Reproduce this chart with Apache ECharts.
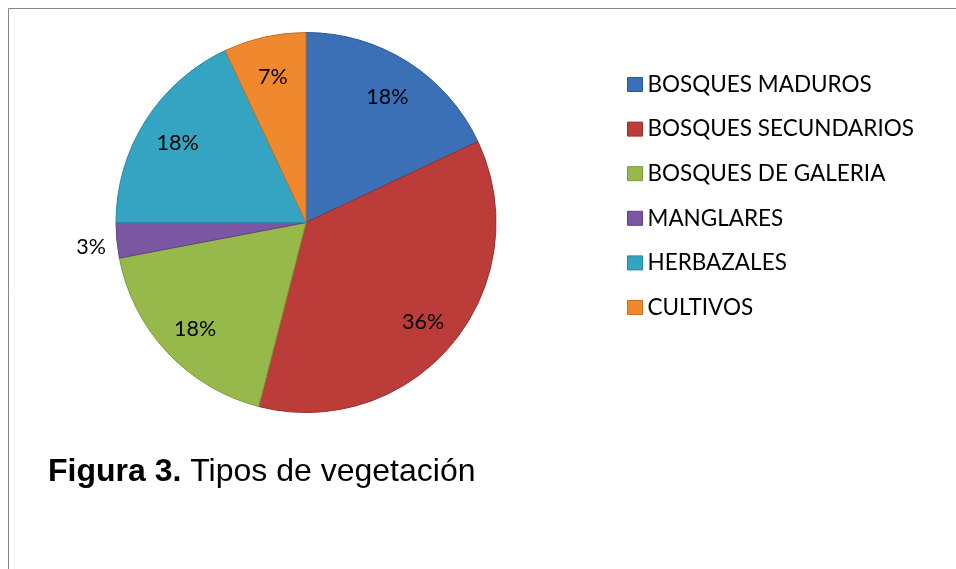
<!DOCTYPE html>
<html><head><meta charset="utf-8">
<script src="https://cdn.jsdelivr.net/npm/echarts@6/dist/echarts.min.js"></script>
<style>html,body{margin:0;padding:0;background:#fff}#c{width:956px;height:569px}</style>
</head><body><div id="c"></div>
<script>
const categories = ['BOSQUES MADUROS','BOSQUES SECUNDARIOS','BOSQUES DE GALERIA','MANGLARES','HERBAZALES','CULTIVOS'];
const values = [18, 36, 18, 3, 18, 7];
const colors = ['#3b6fb6','#bc3c3a','#97b94b','#7b56a3','#35a4c2','#f0892d'];
const edge = ['#2b5896','#98302e','#7a9a38','#5f4182','#27869f','#c96e20'];

const chart = echarts.init(document.getElementById('c'));
const pieData = categories.map((n,i)=>({
  name:n, value:values[i],
  itemStyle:{ color:colors[i], borderColor:edge[i], borderWidth:1 }
}));
const labelData = categories.map((n,i)=>({
  name:n, value:values[i],
  label: i===3 ? {position:'outside', offset:[0,4]} : {position:'inside'}
}));
chart.setOption({
  animation:false,
  legend:{
    orient:'vertical', left:622, top:68,
    itemWidth:15, itemHeight:14, itemGap:21.6,
    icon:'rect',
    textStyle:{fontFamily:'Lato', fontSize:22.5, color:'#000', lineHeight:23, padding:[0,0,0,0]},
    data:categories.map((n,i)=>({name:n, itemStyle:{color:colors[i], borderColor:edge[i], borderWidth:1}}))
  },
  graphic:[
    {type:'rect', shape:{x:8.5,y:8.5,width:1200,height:800}, style:{fill:'none', stroke:'#868686', lineWidth:1}, silent:true, z:-1},
    {type:'text', left:48, top:456, style:{
      text:'{b|Figura 3.}{n| Tipos de vegetación}',
      rich:{
        b:{fontFamily:'Liberation Sans', fontWeight:'bold', fontSize:32, fill:'#000'},
        n:{fontFamily:'Liberation Sans', fontSize:32, fill:'#000'}
      }
    }}
  ],
  series:[
    {
      type:'pie', center:[306,222.5], radius:[0,190], startAngle:90, clockwise:true,
      label:{show:false}, labelLine:{show:false},
      data:pieData, silent:true
    },
    {
      type:'pie', center:[306,225], radius:[108,190], startAngle:90, clockwise:true,
      itemStyle:{color:'rgba(0,0,0,0)'},
      label:{show:true, formatter:'{d}%', fontFamily:'Lato', fontSize:21.5, color:'#000'},
      labelLine:{show:false, length:6, length2:0},
      data:labelData, silent:true, legendHoverLink:false
    }
  ]
});
</script></body></html>
